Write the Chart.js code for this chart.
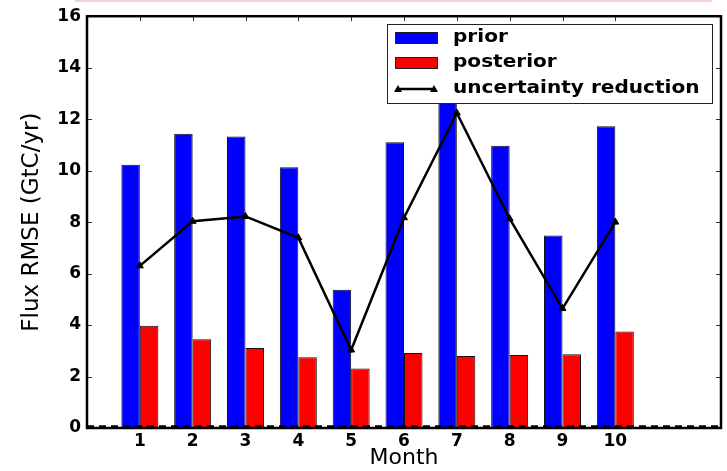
<!DOCTYPE html>
<html>
<head>
<meta charset="utf-8">
<script src="https://cdn.jsdelivr.net/npm/chart.js@4.4.1/dist/chart.umd.min.js"></script>
<style>
    html, body { margin: 0; padding: 0; background: #fff; }
    #wrap { position: relative; width: 727px; height: 471px; }
    #topline { position: absolute; left: 75px; top: 0; width: 637px; height: 2px; background: #f9cfcf; }
</style>
</head>
<body>
<div id="wrap">
    <canvas id="rmseChart"></canvas>
    <div id="topline"></div>
</div>
<script>
// Chart data
const months = [1, 2, 3, 4, 5, 6, 7, 8, 9, 10];
const priorRmse = [10.23, 11.43, 11.33, 10.13, 5.37, 11.10, 13.0, 10.97, 7.48, 11.72];
const posteriorRmse = [3.97, 3.45, 3.11, 2.75, 2.31, 2.91, 2.80, 2.84, 2.87, 3.75];
const uncertaintyReduction = [6.30, 8.03, 8.22, 7.39, 3.03, 8.17, 12.24, 8.13, 4.64, 8.00];
const yTicks = [0, 2, 4, 6, 8, 10, 12, 14, 16];

const FONT = "'DejaVu Sans', 'Liberation Sans', sans-serif";

function toPoints(values) {
    return months.map((m, i) => ({ x: m, y: values[i] }));
}

// frame, inward ticks and the dashed zero line (matplotlib look)
const framePlugin = {
    id: 'frame',
    afterDatasetsDraw(chart) {
        const { ctx, chartArea: a, scales: { x, y } } = chart;
        ctx.save();
        // dashed line at zero
        const y0 = y.getPixelForValue(0) - 1.5;
        ctx.setLineDash([7, 5]);
        ctx.lineWidth = 2.5;
        ctx.strokeStyle = '#000';
        ctx.beginPath();
        ctx.moveTo(a.left, y0);
        ctx.lineTo(a.right, y0);
        ctx.stroke();
        ctx.setLineDash([]);

        // inward tick marks
        ctx.lineWidth = 1;
        ctx.strokeStyle = '#333';
        ctx.beginPath();
        yTicks.forEach(v => {
            const py = Math.round(y.getPixelForValue(v)) + 0.5;
            ctx.moveTo(a.left, py); ctx.lineTo(a.left + 5, py);
            ctx.moveTo(a.right, py); ctx.lineTo(a.right - 5, py);
        });
        months.forEach(m => {
            const px = Math.round(x.getPixelForValue(m)) + 0.5;
            ctx.moveTo(px, a.top); ctx.lineTo(px, a.top + 5);
        });
        ctx.stroke();

        // box around the axes
        ctx.lineWidth = 2.5;
        ctx.strokeStyle = '#000';
        ctx.strokeRect(a.left, a.top, a.right - a.left, a.bottom - a.top);
        ctx.restore();
    },
    afterDraw(chart) {
        // legend drawn inside the axes, on top of the data
        const { ctx } = chart;
        const box = { x: 387, y: 24, w: 325, h: 79 };
        ctx.save();
        ctx.fillStyle = '#fff';
        ctx.fillRect(box.x, box.y, box.w, box.h);
        ctx.lineWidth = 1;
        ctx.strokeStyle = '#222';
        ctx.strokeRect(box.x + 0.5, box.y + 0.5, box.w, box.h);

        const entries = [
            { label: 'prior', kind: 'bar', color: '#0000ff', cy: 38 },
            { label: 'posterior', kind: 'bar', color: '#ff0000', cy: 63 },
            { label: 'uncertainty reduction', kind: 'line', color: '#000', cy: 89 }
        ];
        entries.forEach(e => {
            if (e.kind === 'bar') {
                ctx.fillStyle = e.color;
                ctx.fillRect(395, e.cy - 6, 43, 12);
                ctx.strokeStyle = '#222';
                ctx.strokeRect(395.5, e.cy - 5.5, 42, 11);
            } else {
                ctx.strokeStyle = '#000';
                ctx.lineWidth = 2.5;
                ctx.beginPath();
                ctx.moveTo(398, e.cy); ctx.lineTo(434, e.cy);
                ctx.stroke();
                ctx.fillStyle = '#000';
                [398, 434].forEach(px => {
                    ctx.beginPath();
                    ctx.moveTo(px, e.cy - 4);
                    ctx.lineTo(px + 4, e.cy + 3);
                    ctx.lineTo(px - 4, e.cy + 3);
                    ctx.closePath();
                    ctx.fill();
                });
            }
            ctx.save();
            ctx.translate(453, e.cy);
            ctx.scale(1.18, 1);
            ctx.fillStyle = '#000';
            ctx.font = 'bold 17px ' + FONT;
            ctx.textBaseline = 'middle';
            ctx.fillText(e.label, 0, 0);
            ctx.restore();
        });
        ctx.restore();
    }
};

const config = {
    data: {
        datasets: [
            {
                type: 'line',
                label: 'uncertainty reduction',
                data: toPoints(uncertaintyReduction),
                borderColor: '#000',
                backgroundColor: '#000',
                borderWidth: 2.5,
                pointStyle: 'triangle',
                pointRadius: 4,
                pointBorderWidth: 1,
                tension: 0,
                order: 0
            },
            {
                type: 'bar',
                label: 'prior',
                data: toPoints(priorRmse),
                backgroundColor: '#0000ff',
                borderColor: '#111',
                borderWidth: 1,
                categoryPercentage: 0.7,
                barPercentage: 1.0,
                order: 1
            },
            {
                type: 'bar',
                label: 'posterior',
                data: toPoints(posteriorRmse),
                backgroundColor: '#ff0000',
                borderColor: '#111',
                borderWidth: 1,
                categoryPercentage: 0.7,
                barPercentage: 1.0,
                order: 1
            }
        ]
    },
    options: {
        responsive: true,
        maintainAspectRatio: false,
        animation: false,
        layout: { padding: { top: 15, right: 6, left: 0, bottom: 0 } },
        plugins: {
            legend: { display: false },
            tooltip: { enabled: false }
        },
        scales: {
            x: {
                type: 'linear',
                min: 0,
                max: 12,
                offset: false,
                afterBuildTicks: scale => { scale.ticks = months.map(v => ({ value: v })); },
                afterFit: scale => { scale.height = 43; },
                grid: { display: false, drawTicks: false },
                border: { display: false },
                ticks: {
                    color: '#000',
                    padding: 3,
                    font: { family: FONT, size: 17, weight: 'bold' },
                    maxRotation: 0
                },
                title: {
                    display: true,
                    text: 'Month',
                    color: '#000',
                    padding: { top: 0, bottom: 0 },
                    font: { family: FONT, size: 22 }
                }
            },
            y: {
                min: 0,
                max: 16,
                afterBuildTicks: scale => { scale.ticks = yTicks.map(v => ({ value: v })); },
                afterFit: scale => { scale.width = 87; },
                grid: { display: false, drawTicks: false },
                border: { display: false },
                ticks: {
                    color: '#000',
                    padding: 6,
                    font: { family: FONT, size: 17, weight: 'bold' }
                },
                title: {
                    display: true,
                    text: 'Flux RMSE (GtC/yr)',
                    color: '#000',
                    padding: { top: 18, bottom: 0 },
                    font: { family: FONT, size: 23 }
                }
            }
        }
    },
    plugins: [framePlugin]
};

new Chart(document.getElementById('rmseChart'), config);
</script>
</body>
</html>
